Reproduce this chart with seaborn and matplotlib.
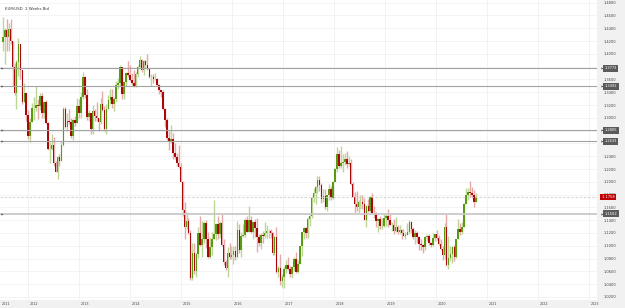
import numpy as np
import pandas as pd
import matplotlib
matplotlib.use("Agg")
import matplotlib.pyplot as plt
import matplotlib.dates as mdates
import matplotlib.transforms as mtransforms
from matplotlib.patches import Rectangle
from matplotlib.ticker import FormatStrFormatter
import seaborn as sns

#------------------------------------------------------------------------------
# EUR/USD, 2-week candles (first candle starts 2011-06-27)
first_open = 1.4180

closes = [
    # 2011
    1.4260, 1.4380, 1.4270, 1.4390, 1.4200, 1.3790, 1.3390, 1.3870, 1.4150, 1.3750, 1.3240, 1.3380, 1.3050, 1.2720,
    # 2012
    1.2930, 1.3150, 1.3160, 1.3200, 1.3180, 1.3340, 1.3070, 1.3240, 1.2920, 1.2520, 1.2520, 1.2570, 1.2290,
    1.2160, 1.2390, 1.2330, 1.2580, 1.3130, 1.2860, 1.2950, 1.2940, 1.2710, 1.2970, 1.2920, 1.3180, 1.3070,
    # 2013
    1.3320, 1.3640, 1.3360, 1.3020, 1.3070, 1.2820, 1.3110, 1.3030, 1.2990, 1.2930, 1.3220, 1.3120, 1.2830,
    1.3140, 1.3280, 1.3330, 1.3220, 1.3300, 1.3520, 1.3550, 1.3800, 1.3370, 1.3560, 1.3700, 1.3670, 1.3590,
    # 2014
    1.3540, 1.3490, 1.3690, 1.3800, 1.3910, 1.3750, 1.3890, 1.3830, 1.3760, 1.3630, 1.3640, 1.3600, 1.3600,
    1.3520, 1.3430, 1.3400, 1.3130, 1.2960, 1.2680, 1.2630, 1.2670, 1.2450, 1.2390, 1.2290, 1.2230, 1.2000,
    # 2015
    1.1560, 1.1290, 1.1385, 1.1195, 1.0490, 1.0890, 1.0600, 1.0870, 1.1200, 1.1010, 1.1110, 1.1350, 1.1110,
    1.0830, 1.0980, 1.1100, 1.1180, 1.1340, 1.1190, 1.1360, 1.1020, 1.0740, 1.0650, 1.0880, 1.0830, 1.0860,
    # 2016
    1.0915, 1.0830, 1.1250, 1.0930, 1.1150, 1.1170, 1.1400, 1.1220, 1.1400, 1.1220, 1.1370, 1.1280, 1.1140,
    1.1040, 1.1170, 1.1160, 1.1200, 1.1230, 1.1230, 1.1200, 1.0880, 1.1140, 1.0590, 1.0660, 1.0450, 1.0520,
    # 2017
    1.0640, 1.0700, 1.0640, 1.0560, 1.0670, 1.0800, 1.0590, 1.0720, 1.0990, 1.1210, 1.1280, 1.1200, 1.1420,
    1.1470, 1.1750, 1.1820, 1.1920, 1.2030, 1.1950, 1.1730, 1.1780, 1.1610, 1.1790, 1.1890, 1.1750, 1.2000,
    # 2018
    1.2200, 1.2430, 1.2250, 1.2290, 1.2310, 1.2350, 1.2280, 1.2290, 1.1960, 1.1770, 1.1660, 1.1610, 1.1680,
    1.1680, 1.1650, 1.1410, 1.1620, 1.1550, 1.1760, 1.1520, 1.1510, 1.1390, 1.1420, 1.1310, 1.1310, 1.1440,
    # 2019
    1.1470, 1.1410, 1.1330, 1.1330, 1.1230, 1.1300, 1.1220, 1.1250, 1.1200, 1.1160, 1.1170, 1.1210, 1.1370,
    1.1270, 1.1130, 1.1200, 1.1140, 1.1030, 1.1020, 1.0980, 1.1140, 1.1160, 1.1050, 1.1020, 1.1120, 1.1180,
    # 2020
    1.1120, 1.1030, 1.0950, 1.0850, 1.1290, 1.0700, 1.0810, 1.0870, 1.0980, 1.0820, 1.1100, 1.1260, 1.1220,
    1.1300, 1.1660, 1.1790, 1.1840, 1.1830, 1.1790, 1.1680, 1.1758,
]

highs = [
    # 2011
    1.4580, 1.4400, 1.4540, 1.4480, 1.4550, 1.4200, 1.3850, 1.3900, 1.4245, 1.4150, 1.3690, 1.3550, 1.3370, 1.3120,
    # 2012
    1.2990, 1.3230, 1.3320, 1.3490, 1.3300, 1.3380, 1.3380, 1.3260, 1.3280, 1.2930, 1.2620, 1.2750, 1.2700,
    1.2330, 1.2400, 1.2440, 1.2640, 1.3170, 1.3170, 1.3070, 1.3140, 1.2990, 1.2980, 1.3030, 1.3310, 1.3300,
    # 2013
    1.3400, 1.3710, 1.3650, 1.3450, 1.3120, 1.3080, 1.3200, 1.3140, 1.3240, 1.3000, 1.3310, 1.3420, 1.3180,
    1.3210, 1.3350, 1.3450, 1.3450, 1.3320, 1.3570, 1.3620, 1.3830, 1.3800, 1.3570, 1.3710, 1.3890, 1.3830,
    # 2014
    1.3700, 1.3740, 1.3710, 1.3830, 1.3970, 1.3920, 1.3910, 1.3900, 1.3990, 1.3770, 1.3680, 1.3680, 1.3700,
    1.3620, 1.3530, 1.3440, 1.3440, 1.3150, 1.3000, 1.2790, 1.2890, 1.2770, 1.2600, 1.2450, 1.2570, 1.2290,
    # 2015
    1.2010, 1.1680, 1.1530, 1.1440, 1.1240, 1.1050, 1.1050, 1.0880, 1.1290, 1.1470, 1.1380, 1.1390, 1.1410,
    1.1220, 1.1130, 1.1210, 1.1710, 1.1350, 1.1460, 1.1390, 1.1490, 1.1100, 1.0780, 1.0980, 1.1040, 1.0990,
    # 2016
    1.0990, 1.0990, 1.1380, 1.1340, 1.1220, 1.1340, 1.1440, 1.1460, 1.1620, 1.1460, 1.1380, 1.1420, 1.1430,
    1.1190, 1.1200, 1.1230, 1.1370, 1.1330, 1.1260, 1.1260, 1.1210, 1.1150, 1.1300, 1.0690, 1.0870, 1.0560,
    # 2017
    1.0690, 1.0780, 1.0830, 1.0680, 1.0680, 1.0830, 1.0900, 1.0780, 1.1000, 1.1220, 1.1290, 1.1300, 1.1450,
    1.1490, 1.1780, 1.1910, 1.1940, 1.2090, 1.2090, 1.1980, 1.1880, 1.1880, 1.1800, 1.1960, 1.1940, 1.2020,
    # 2018
    1.2210, 1.2540, 1.2490, 1.2560, 1.2440, 1.2450, 1.2480, 1.2410, 1.2360, 1.1990, 1.1840, 1.1850, 1.1720,
    1.1790, 1.1790, 1.1750, 1.1630, 1.1730, 1.1780, 1.1820, 1.1620, 1.1530, 1.1430, 1.1470, 1.1440, 1.1490,
    # 2019
    1.1490, 1.1570, 1.1510, 1.1370, 1.1420, 1.1450, 1.1330, 1.1320, 1.1270, 1.1260, 1.1220, 1.1350, 1.1410,
    1.1380, 1.1290, 1.1250, 1.1230, 1.1160, 1.1110, 1.1030, 1.1150, 1.1180, 1.1180, 1.1060, 1.1200, 1.1190,
    # 2020
    1.1240, 1.1170, 1.1100, 1.0990, 1.1360, 1.1495, 1.1150, 1.0990, 1.1000, 1.1020, 1.1110, 1.1420, 1.1350,
    1.1370, 1.1670, 1.1910, 1.1900, 1.2010, 1.1920, 1.1870, 1.1830,
]

lows = [
    # 2011
    1.4050, 1.3840, 1.4050, 1.4050, 1.4160, 1.3500, 1.3360, 1.3145, 1.3650, 1.3610, 1.3210, 1.3260, 1.2950, 1.2670,
    # 2012
    1.2620, 1.2930, 1.2970, 1.3100, 1.2980, 1.3120, 1.3000, 1.3000, 1.2900, 1.2500, 1.2290, 1.2500, 1.2250,
    1.2150, 1.2040, 1.2240, 1.2330, 1.2560, 1.2840, 1.2800, 1.2900, 1.2690, 1.2660, 1.2870, 1.2920, 1.2990,
    # 2013
    1.3000, 1.3300, 1.3310, 1.2970, 1.2950, 1.2750, 1.2750, 1.2950, 1.2950, 1.2800, 1.2900, 1.3100, 1.2800,
    1.2750, 1.3140, 1.3220, 1.3150, 1.3100, 1.3250, 1.3450, 1.3500, 1.3300, 1.3300, 1.3500, 1.3630, 1.3570,
    # 2014
    1.3520, 1.3480, 1.3480, 1.3640, 1.3780, 1.3710, 1.3670, 1.3790, 1.3750, 1.3620, 1.3500, 1.3550, 1.3590,
    1.3490, 1.3370, 1.3330, 1.3120, 1.2860, 1.2660, 1.2500, 1.2610, 1.2360, 1.2360, 1.2250, 1.2220, 1.1990,
    # 2015
    1.1460, 1.1100, 1.1260, 1.1180, 1.0460, 1.0460, 1.0560, 1.0520, 1.0810, 1.1000, 1.0820, 1.1050, 1.0960,
    1.0810, 1.0810, 1.0850, 1.1100, 1.1090, 1.1110, 1.1120, 1.1000, 1.0700, 1.0620, 1.0520, 1.0800, 1.0800,
    # 2016
    1.0710, 1.0780, 1.0810, 1.0890, 1.0820, 1.1140, 1.1140, 1.1210, 1.1210, 1.1200, 1.1100, 1.1130, 1.0910,
    1.1000, 1.0950, 1.1050, 1.1120, 1.1120, 1.1120, 1.1120, 1.0860, 1.0850, 1.0570, 1.0520, 1.0390, 1.0350,
    # 2017
    1.0340, 1.0580, 1.0620, 1.0520, 1.0490, 1.0600, 1.0570, 1.0570, 1.0720, 1.0840, 1.1110, 1.1120, 1.1120,
    1.1310, 1.1440, 1.1690, 1.1660, 1.1820, 1.1860, 1.1670, 1.1690, 1.1570, 1.1550, 1.1710, 1.1720, 1.1730,
    # 2018
    1.1990, 1.2160, 1.2210, 1.2210, 1.2150, 1.2260, 1.2220, 1.2250, 1.1950, 1.1760, 1.1510, 1.1540, 1.1510,
    1.1580, 1.1580, 1.1400, 1.1300, 1.1530, 1.1530, 1.1500, 1.1430, 1.1300, 1.1220, 1.1270, 1.1270, 1.1300,
    # 2019
    1.1310, 1.1290, 1.1320, 1.1230, 1.1180, 1.1210, 1.1180, 1.1190, 1.1110, 1.1150, 1.1110, 1.1170, 1.1180,
    1.1200, 1.1100, 1.1030, 1.1050, 1.0930, 1.0930, 1.0880, 1.0940, 1.1070, 1.1010, 1.0980, 1.0990, 1.1070,
    # 2020
    1.1090, 1.1020, 1.0940, 1.0780, 1.0800, 1.0680, 1.0636, 1.0770, 1.0730, 1.0770, 1.0810, 1.1100, 1.1170,
    1.1190, 1.1300, 1.1700, 1.1710, 1.1760, 1.1740, 1.1610, 1.1680,
]

# horizontal levels drawn on the chart
levels = [1.3773, 1.3492, 1.2805, 1.2633]
support_level = 1.1502
last_price = 1.1758

#------------------------------------------------------------------------------
sns.set_theme(style="white")
plt.rcParams['font.family'] = ['DejaVu Sans']

dates = pd.date_range('2011-06-27', periods=len(closes), freq='14D')
opens = [first_open] + closes[:-1]

df = pd.DataFrame({'date': dates, 'open': opens, 'high': highs,
                   'low': lows, 'close': closes})
df['x'] = mdates.date2num(df['date'] + pd.Timedelta(days=7))
df['up'] = df['close'] >= df['open']

fig = plt.figure(figsize=(6.25, 3.08), dpi=100, facecolor='white')
ax = fig.add_axes([0, 8 / 308, 597 / 625, 300 / 308])
ax.set_facecolor('white')

# grey panels for the axes
fig.patches.append(Rectangle((597 / 625, 0), 28 / 625, 1, transform=fig.transFigure,
                             fc='#f1f1f1', ec='none', zorder=-1))
fig.patches.append(Rectangle((0, 0), 1, 8 / 308, transform=fig.transFigure,
                             fc='#f1f1f1', ec='none', zorder=-1))

# grid
years = pd.date_range('2012-01-01', '2023-01-01', freq='YS')
for y in mdates.date2num(years):
    ax.axvline(y, color='#f0f0f0', lw=0.6, zorder=0)
yticks = np.round(np.arange(1.02, 1.4801, 0.02), 2)
for y in yticks:
    ax.axhline(y, color='#f2f2f2', lw=0.6, zorder=0)

# wicks
wick_lo = np.minimum(df['low'], np.minimum(df['open'], df['close']))
wick_hi = np.maximum(df['high'], np.maximum(df['open'], df['close']))
wick_col = np.where(df['up'], '#bcd795', '#e6a8a8')
ax.vlines(df['x'], wick_lo, wick_hi, colors=wick_col, lw=1.0, zorder=2)

# bodies
body_col = np.where(df['up'], '#5a9a12', '#aa0808')
ax.bar(df['x'], df['close'] - df['open'], bottom=df['open'], width=11,
       color=body_col, linewidth=0, zorder=3)

# level lines
blend = mtransforms.blended_transform_factory(ax.transAxes, ax.transData)
for lv in levels:
    ax.axhline(lv, color='#a3a3a3', lw=0.8, zorder=4)
ax.axhline(support_level, color='#c9c9c9', lw=1.3, zorder=4)
ax.axhline(last_price, color='#cfcfcf', lw=0.6, ls=(0, (3, 2)), zorder=4)

for lv in levels + [support_level]:
    ax.plot([0.004], [lv], marker='>', ms=1.6, color='#555555', mec='none',
            transform=blend, clip_on=False, zorder=5)
    ax.plot([1.008], [lv], marker='>', ms=1.6, color='#555555', mec='none',
            transform=blend, clip_on=False, zorder=5)
    ax.text(1.013, lv, f'{lv:.4f}', transform=blend, fontsize=2.6, color='white',
            va='center', ha='left', clip_on=False, zorder=6,
            bbox=dict(boxstyle='square,pad=0.35', fc='#5b5b5b', ec='none'))

ax.text(1.006, last_price, f' {last_price:.4f} ', transform=blend, fontsize=2.6,
        color='white', va='center', ha='left', clip_on=False, zorder=6,
        bbox=dict(boxstyle='square,pad=0.25', fc='#c00000', ec='none'))

# title
ax.text(0.008, 0.978, 'EUR/USD  2 Weeks Bid', transform=ax.transAxes,
        fontsize=2.8, color='#333333', va='top', ha='left')

# axes
left = mdates.date2num(pd.Timestamp('2011-06-14'))
right = mdates.date2num(pd.Timestamp('2023-02-27'))
ax.set_xlim(left, right)
ax.set_ylim(1.0153, 1.4841)

ax.yaxis.tick_right()
ax.set_yticks(yticks)
ax.yaxis.set_major_formatter(FormatStrFormatter('%.4f'))
ax.tick_params(axis='y', length=0, pad=5, labelsize=2.6, colors='#444444')

year_labels = ['2011'] + [str(d.year) for d in years]
ax.set_xticks([left] + list(mdates.date2num(years)))
ax.set_xticklabels(year_labels)
ax.tick_params(axis='x', length=0, pad=1.2, labelsize=2.4, colors='#444444')
shift = mtransforms.ScaledTranslation(1.5 / 100, 0, fig.dpi_scale_trans)
for lab in ax.get_xticklabels():
    lab.set_horizontalalignment('left')
    lab.set_transform(lab.get_transform() + shift)

for s in ax.spines.values():
    s.set_visible(False)

plt.savefig('out.png', dpi=100)
